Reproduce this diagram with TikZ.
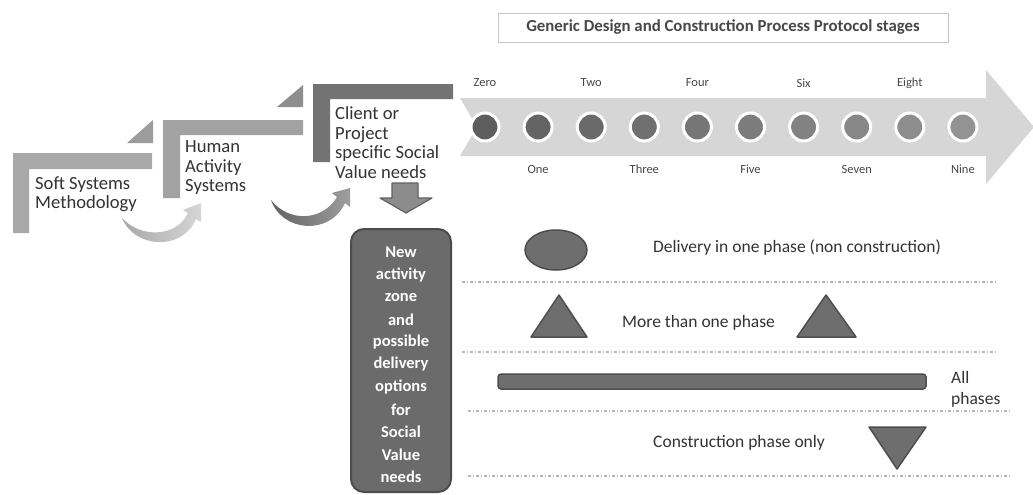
\documentclass[tikz,border=0pt]{standalone}
\usepackage{fontspec}
\setmainfont{Carlito}
\usetikzlibrary{shapes.geometric}
\definecolor{stepA}{HTML}{A8A8A8}
\definecolor{stepAt}{HTML}{9C9C9C}
\definecolor{stepB}{HTML}{A2A2A2}
\definecolor{stepBt}{HTML}{8E8E8E}
\definecolor{stepC}{HTML}{737373}
\definecolor{chev}{HTML}{D6D6D6}
\definecolor{txt}{HTML}{333333}
\definecolor{shapefill}{HTML}{6E6E6E}
\definecolor{shapeline}{HTML}{4E4E4E}
\definecolor{dotcol}{HTML}{B8B8B8}
\tikzset{
  steptext/.style={anchor=west, align=left, text=txt, inner sep=0pt,
    font=\fontsize{18.6}{19.5}\selectfont},
  stagedot/.style={circle, minimum size=28pt, inner sep=0pt, draw=white, line width=3pt},
  stagelbl/.style={text=txt!90, inner sep=0pt, font=\fontsize{12.5}{14}\selectfont},
  keytext/.style={anchor=west, text=txt, inner sep=0pt, font=\fontsize{17.5}{19}\selectfont},
  keyshape/.style={fill=shapefill, draw=shapeline, line width=1.5pt, line join=round},
  sepline/.style={draw=dotcol, line width=1.1pt, dash pattern=on 3pt off 2pt on 1pt off 2pt},
  boxword/.style={text=white, font=\bfseries\fontsize{16.5}{18}\selectfont, inner sep=0pt}
}
\begin{document}
\begin{tikzpicture}[x=1pt,y=-1pt]
\useasboundingbox (0,0) rectangle (1033,495);
\fill[white] (0,0) rectangle (1033,495);

% title
\node[draw=black!22, line width=0.8pt, minimum width=450pt, minimum height=29pt, inner sep=0pt,
  text=txt!90, font=\bfseries\fontsize{16.8}{18}\selectfont] (title) at (723,27.5)
  {Generic Design and Construction Process Protocol stages};

% step-up shapes
\fill[stepA] (13,153) -- (152,153) -- (152,169) -- (29,169) -- (29,233) -- (13,233) -- cycle;
\fill[stepAt] (127,143) -- (153,143) -- (153,120) -- cycle;
\fill[stepB] (163,120) -- (303,120) -- (303,135) -- (180,135) -- (180,198) -- (163,198) -- cycle;
\fill[stepBt] (277,107) -- (303,107) -- (303,85) -- cycle;
\fill[stepC] (313,84) -- (453,84) -- (453,99) -- (330,99) -- (330,162) -- (313,162) -- cycle;

\node[steptext] (ssm) at (35,194) {Soft Systems\\Methodology};
\node[steptext] (has) at (185,168) {Human\\Activity\\Systems};
\node[steptext] (cps) at (335,142.5) {Client or\\Project\\specific Social\\Value needs};

% curved arrows
\coordinate (a1tail) at (122,218);
\coordinate (a1tip) at (201,203);
\shade[left color=black!34, right color=black!16]
  (a1tail) .. controls (134,248) and (182,252) .. (196,219)
  -- (201,222) -- (a1tip) -- (183,210) -- (188,213)
  .. controls (176,238) and (140,238) .. (a1tail) -- cycle;
\coordinate (a2tail) at (271,200);
\coordinate (a2tip) at (350,188);
\shade[left color=black!62, right color=black!38]
  (a2tail) .. controls (282,232) and (330,236) .. (345,203)
  -- (350,207) -- (a2tip) -- (332,193) -- (337,197)
  .. controls (322,222) and (288,222) .. (a2tail) -- cycle;

% down block arrow
\coordinate (dtop) at (405,183);
\coordinate (dtip) at (406,213);
\filldraw[fill=black!45, draw=black!62, line width=1.2pt, line join=round]
  (392,183) -- (418,183) -- (418,198) -- (432,198) -- (dtip) -- (380,198) -- (392,198) -- cycle;

% rounded box
\draw[fill=black!58, draw=black!70, line width=2pt, rounded corners=13pt]
  (351,229) rectangle (451,492);
\foreach \w [count=\i from 0] in {New,activity,zone,and,possible,delivery,options,for,Social,Value,needs}{
  \node[boxword] (bw\i) at (401,252+22.5*\i) {\w};
}

% process chevron
\fill[chev] (460,98) -- (986,98) -- (986,70) -- (1034,127) -- (986,184) -- (986,156)
  -- (460,156) -- (477,127) -- cycle;
\foreach \n [count=\k from 0] in {Zero,One,Two,Three,Four,Five,Six,Seven,Eight,Nine}{
  \pgfmathsetmacro{\shade}{63-2.3*\k}
  \node[stagedot, fill=black!\shade] (s\k) at (485+53.1*\k,127) {};
  \pgfmathparse{int(mod(\k,2))}
  \ifnum\pgfmathresult=0
    \node[stagelbl] (l\k) at (485+53.1*\k,83) {\n};
  \else
    \node[stagelbl] (l\k) at (485+53.1*\k,169) {\n};
  \fi
}

% key panel
\node[keyshape, ellipse, minimum width=62pt, minimum height=40pt, inner sep=0pt] (oval) at (556,250) {};
\node[keytext] (t1) at (653,248) {Delivery in one phase (non construction)};
\draw[sepline] (462,282) -- (996,282);
\filldraw[keyshape] (531,337) -- (587,337) -- (559,295) -- cycle;
\filldraw[keyshape] (797,337) -- (856,337) -- (826,295) -- cycle;
\node[keytext] (t2) at (622,323) {More than one phase};
\draw[sepline] (462,352) -- (996,352);
\filldraw[keyshape, rounded corners=3pt] (498,374) rectangle (926,389);
\node[keytext] (t3a) at (951,377) {All};
\node[keytext] (t3b) at (951,400) {phases};
\draw[sepline] (468,411) -- (1010,411);
\node[keytext] (t4) at (653,443) {Construction phase only};
\filldraw[keyshape] (869,427) -- (926,427) -- (897,469) -- cycle;
\draw[sepline] (468,476) -- (1010,476);
\end{tikzpicture}
\end{document}
